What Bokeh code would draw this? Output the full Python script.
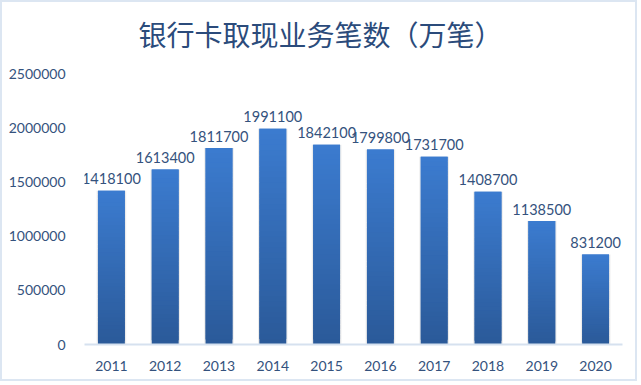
from bokeh.plotting import figure
from bokeh.models import (ColumnDataSource, FactorRange, Range1d, FixedTicker,
                          BasicTickFormatter)
from bokeh.embed import file_html
from bokeh.resources import INLINE
from bokeh.core.properties import value

# ---- data ----
years = ["2011", "2012", "2013", "2014", "2015", "2016", "2017", "2018", "2019", "2020"]
counts = [1418100, 1613400, 1811700, 1991100, 1842100, 1799800, 1731700, 1408700, 1138500, 831200]
y_ticks = [0, 500000, 1000000, 1500000, 2000000, 2500000]
title_text = "银行卡取现业务笔数（万笔）"

TEXT_COLOR = "#34527d"
TOP_COLOR = (0x3c, 0x7c, 0xd0)
BOT_COLOR = (0x2b, 0x5a, 0x99)

# layout: the frame reaches the top of the canvas so the title can sit inside it;
# the axis top tick (2500000) lands 71px below the frame top.
Y_TOP = 3155000

p = figure(width=637, height=381, output_backend="svg", toolbar_location=None,
           x_range=FactorRange(factors=years), y_range=Range1d(0, Y_TOP),
           min_border_left=82, min_border_right=17, min_border_top=0, min_border_bottom=39)
p.styles = {"border": "2px solid #dce6f2"}
p.background_fill_color = "white"
p.border_fill_color = "white"
p.outline_line_color = None
p.xgrid.grid_line_color = None
p.ygrid.grid_line_color = None

# title
p.text(x=[years[4]], y=[Y_TOP], text=[title_text], x_offset=-6, y_offset=31.5,
       text_align="center", text_baseline="middle",
       text_font=value("Noto Sans CJK SC"), text_font_size="28px", text_color="#2b4b7b")

# soft shadow behind bars
p.vbar(x=years, top=counts, bottom=0, width=0.55, fill_color="#c8c8c8",
       fill_alpha=0.35, line_color=None)

# gradient bars: each bar split into overlapping slices of its own height
N = 40
xs, bots, tops, cols = [], [], [], []
for yr, v in zip(years, counts):
    for i in range(N):
        t = (i + 0.5) / N
        r = int(BOT_COLOR[0] + (TOP_COLOR[0] - BOT_COLOR[0]) * t)
        g = int(BOT_COLOR[1] + (TOP_COLOR[1] - BOT_COLOR[1]) * t)
        b = int(BOT_COLOR[2] + (TOP_COLOR[2] - BOT_COLOR[2]) * t)
        xs.append(yr)
        bots.append(v * i / N)
        tops.append(v * min(i + 2, N) / N)
        cols.append("#%02x%02x%02x" % (r, g, b))
src = ColumnDataSource(dict(x=xs, bottom=bots, top=tops, color=cols))
p.vbar(x="x", top="top", bottom="bottom", width=0.5, source=src,
       fill_color="color", line_color=None)

# data labels
lab = ColumnDataSource(dict(x=years, y=counts, t=[str(c) for c in counts]))
p.text(x="x", y="y", text="t", source=lab, text_align="center", text_baseline="alphabetic",
       y_offset=-12, text_font=value("Lato"), text_font_size="14.5px", text_color=TEXT_COLOR)

# axes
xa = p.xaxis[0]
xa.axis_line_color = "#d6e1ef"
xa.axis_line_width = 2
xa.major_tick_line_color = None
xa.minor_tick_line_color = None
xa.major_label_standoff = 10
xa.major_label_text_font = "Lato"
xa.major_label_text_font_size = "14px"
xa.major_label_text_color = TEXT_COLOR

ya = p.yaxis[0]
ya.ticker = FixedTicker(ticks=y_ticks)
ya.formatter = BasicTickFormatter(use_scientific=False)
ya.axis_line_color = None
ya.major_tick_line_color = None
ya.minor_tick_line_color = None
ya.major_label_standoff = 13
ya.major_label_text_font = "Lato"
ya.major_label_text_font_size = "14px"
ya.major_label_text_color = TEXT_COLOR

open("out.html", "w").write(file_html(p, INLINE))
